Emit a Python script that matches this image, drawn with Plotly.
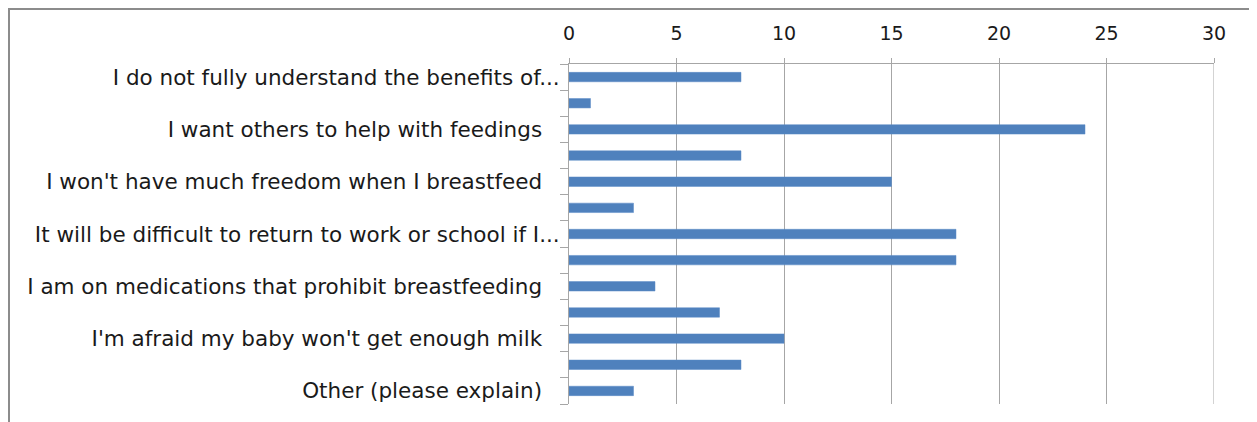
import plotly.graph_objects as go

categories = [
    "I do not fully understand the benefits of...",
    "(unlabeled 2)",
    "I want others to help with feedings",
    "(unlabeled 4)",
    "I won't have much freedom when I breastfeed",
    "(unlabeled 6)",
    "It will be difficult to return to work or school if I...",
    "(unlabeled 8)",
    "I am on medications that prohibit breastfeeding",
    "(unlabeled 10)",
    "I'm afraid my baby won't get enough milk",
    "(unlabeled 12)",
    "Other (please explain)",
]
values = [8, 1, 24, 8, 15, 3, 18, 18, 4, 7, 10, 8, 3]
x_ticks = [0, 5, 10, 15, 20, 25, 30]

# labels not truncated carry a trailing space in the source chart
TRAIL = "\u2002\u00a0"
tick_labels = []
for c in categories:
    if c.startswith("(unlabeled"):
        tick_labels.append("")
    elif c.endswith("..."):
        tick_labels.append(c)
    else:
        tick_labels.append(c + TRAIL)

# page has an 8px body margin; figure coordinates are page minus 8
W, H = 1249, 414
L, R, T, B = 561, 1206, 56, 396

fig = go.Figure(go.Bar(
    x=values, y=categories, orientation="h",
    marker=dict(color="#4F81BD", line=dict(color="#5B8BC6", width=0.5)),
    width=0.36,
))

grid = "#A6A6A6"
fig.update_layout(
    width=W, height=H,
    margin=dict(l=L, r=W - R, t=T, b=H - B, pad=0),
    paper_bgcolor="white", plot_bgcolor="white",
    font=dict(family="DejaVu Sans", size=17, color="#1a1a1a"),
    showlegend=False,
    xaxis=dict(
        side="top", range=[0, 30], tickvals=x_ticks,
        tickfont=dict(size=19),
        showgrid=True, gridcolor=grid, gridwidth=1,
        showline=True, linecolor=grid, linewidth=1,
        ticks="outside", ticklen=5, tickcolor=grid,
        ticklabelstandoff=10,
        zeroline=False, fixedrange=True,
    ),
    yaxis=dict(
        type="category", autorange="reversed",
        tickvals=categories, ticktext=tick_labels,
        tickfont=dict(size=21.5),
        tickson="boundaries", ticks="outside", ticklen=8, tickcolor=grid,
        showline=True, linecolor=grid, linewidth=1,
        showgrid=False, ticklabelstandoff=4,
    ),
)

# right border of plot area
fig.add_shape(type="line", xref="x", yref="paper", x0=30, x1=30, y0=0, y1=1,
              line=dict(color=grid, width=1))

def px_x(p):
    return (p - L) / (R - L)

def px_y(p):
    return (B - p) / (B - T)

# outer chart frame
fig.add_shape(type="rect", xref="paper", yref="paper",
              x0=px_x(1), x1=px_x(W - 1), y0=px_y(H + 20), y1=px_y(1),
              line=dict(color="#8C8C8C", width=2), layer="below")

fig.write_html("out.html")
